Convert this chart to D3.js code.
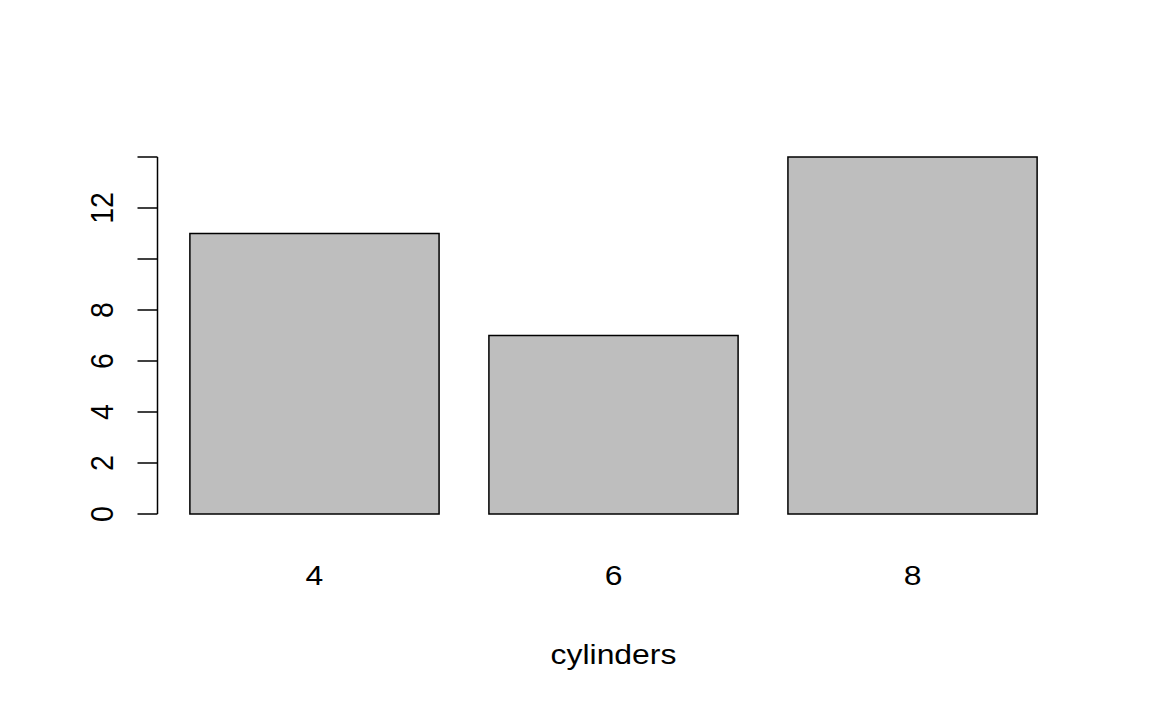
<!DOCTYPE html>
<html><head><meta charset="utf-8">
<script src="https://cdn.jsdelivr.net/npm/d3@7"></script>
<style>body{margin:0;background:#fff}svg{display:block}text{font-family:"Liberation Sans",Arial,sans-serif;fill:#000}</style>
</head><body><svg id="c" width="1152" height="714"></svg>
<script>
const categories = ["4","6","8"];
const counts = [11, 7, 14];
const yTicks = [0,2,4,6,8,10,12,14];
const yTickLabels = ["0","2","4","6","8","","12",""];
const xLabel = "cylinders";

const svg = d3.select("#c");
const FS = 28.5, SX = 1.12;
const space = 0.2, width = 1;
const lefts = categories.map((c,i)=> space + i*(width+space));
const xmin = lefts[0], xmax = lefts[lefts.length-1] + width;
const ext = (xmax - xmin)*0.04;
const x = d3.scaleLinear().domain([xmin-ext, xmax+ext]).range([156, 1071]);
const y = d3.scaleLinear().domain([0,14]).range([514,157]);

svg.selectAll("rect.bar").data(counts).enter().append("rect")
  .attr("class","bar")
  .attr("x",(d,i)=>x(lefts[i]))
  .attr("width",(d,i)=>x(lefts[i]+width)-x(lefts[i]))
  .attr("y",d=>y(d)).attr("height",d=>y(0)-y(d))
  .attr("fill","#BEBEBE").attr("stroke","#000").attr("stroke-width",1.5);

// y axis
const ax = svg.append("g").attr("transform","translate(157.5,0)");
ax.append("line").attr("x1",0).attr("x2",0).attr("y1",y(0)).attr("y2",y(14)).attr("stroke","#000").attr("stroke-width",1.5);
ax.selectAll("line.t").data(yTicks).enter().append("line").attr("class","t")
  .attr("x1",-20).attr("x2",0).attr("y1",d=>y(d)).attr("y2",d=>y(d)).attr("stroke","#000").attr("stroke-width",1.5);
ax.selectAll("text").data(yTicks).enter().append("text")
  .attr("transform",d=>`translate(-45,${y(d)}) scale(${SX},1) rotate(-90)`)
  .attr("text-anchor","middle").attr("font-size",FS)
  .text((d,i)=>yTickLabels[i]);

// x labels
svg.selectAll("text.xl").data(categories).enter().append("text").attr("class","xl")
  .attr("transform",(d,i)=>`translate(${x(lefts[i]+width/2)},584.5) scale(${SX},1)`)
  .attr("text-anchor","middle").attr("font-size",FS).text(d=>d);

svg.append("text")
  .attr("transform",`translate(${x((xmin+xmax)/2)},663.5) scale(${SX},1)`)
  .attr("text-anchor","middle").attr("font-size",FS).text(xLabel);
</script></body></html>
